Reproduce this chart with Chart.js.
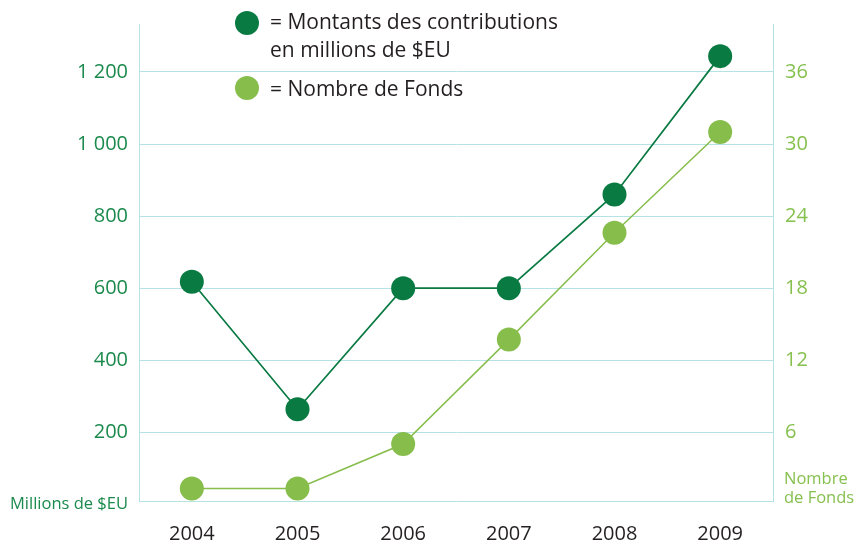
<!DOCTYPE html>
<html>
<head>
<meta charset="utf-8">
<script src="https://cdn.jsdelivr.net/npm/chart.js@4.4.0/dist/chart.umd.min.js"></script>
<style>
  body { margin: 0; background: #fff; }
  #wrap { position: relative; width: 856px; height: 542px; font-family: "Open Sans", sans-serif; }
  .dot { position: absolute; width: 24px; height: 24px; border-radius: 50%; }
  .txt { position: absolute; color: #231f20; font-size: 21px; line-height: 28px; white-space: nowrap; }
  .ttl { position: absolute; font-size: 16.5px; line-height: 19px; white-space: nowrap; }
</style>
</head>
<body>
<div id="wrap">
  <canvas id="canvas" width="856" height="542"></canvas>
  <div class="dot" style="left:235px;top:11px;background:#0a7a43"></div>
  <div class="txt" style="left:270px;top:7px">= Montants des contributions<br>en millions de $EU</div>
  <div class="dot" style="left:235px;top:76px;background:#86bd4b"></div>
  <div class="txt" style="left:270px;top:74px">= Nombre de Fonds</div>
  <div class="ttl" style="left:10px;top:493px;color:#1b8a4c">Millions de $EU</div>
  <div class="ttl" style="left:784px;top:468px;color:#86c04f">Nombre<br>de Fonds</div>
</div>
<script>
var years = ["2004", "2005", "2006", "2007", "2008", "2009"];
var contributions = [618, 264, 600, 600, 860, 1244];
var funds = [1.3, 1.3, 5, 13.7, 22.6, 31];
var leftTicks = [200, 400, 600, 800, 1000, 1200];
var rightTicks = [6, 12, 18, 24, 30, 36];

var darkGreen = '#0a7a43';
var lightGreen = '#86bd4b';
var gridColor = '#b5e2e4';

function fixTicks(list) {
    return function(scale) {
        scale.ticks = list.map(function(v) { return { value: v }; });
    };
}

window.onload = function() {
    var ctx = document.getElementById("canvas").getContext("2d");
    window.myLine = new Chart(ctx, {
        type: 'line',
        data: {
            labels: years,
            datasets: [{
                label: 'Montants des contributions en millions de $EU',
                data: contributions,
                yAxisID: 'yLeft',
                borderColor: darkGreen,
                backgroundColor: darkGreen,
                borderWidth: 1.7,
                pointRadius: 12,
                pointHoverRadius: 12,
                pointBorderWidth: 0
            }, {
                label: 'Nombre de Fonds',
                data: funds,
                yAxisID: 'yRight',
                borderColor: lightGreen,
                backgroundColor: lightGreen,
                borderWidth: 1.5,
                pointRadius: 12,
                pointHoverRadius: 12,
                pointBorderWidth: 0
            }]
        },
        options: {
            responsive: false,
            animation: false,
            layout: { padding: { top: 24, left: 0, right: 0, bottom: 0 } },
            plugins: {
                legend: { display: false },
                tooltip: { enabled: false }
            },
            scales: {
                x: {
                    offset: true,
                    grid: { display: false },
                    border: { display: true, color: gridColor, width: 1 },
                    ticks: {
                        color: '#231f20',
                        font: { family: 'Open Sans', size: 20 },
                        padding: 13
                    },
                    afterFit: function(s) { s.height = 41; }
                },
                yLeft: {
                    position: 'left',
                    min: 9.3,
                    max: 1333.2,
                    afterBuildTicks: fixTicks(leftTicks),
                    grid: { color: gridColor, drawTicks: false, lineWidth: 1 },
                    border: { display: true, color: gridColor, width: 1 },
                    ticks: {
                        color: '#1b8a4c',
                        font: { family: 'Open Sans', size: 20 },
                        padding: 11,
                        callback: function(v) {
                            return String(v).replace(/\B(?=(\d{3})+(?!\d))/g, ' ');
                        }
                    },
                    afterFit: function(s) { s.width = 139; }
                },
                yRight: {
                    position: 'right',
                    min: 0.25,
                    max: 40,
                    afterBuildTicks: fixTicks(rightTicks),
                    grid: { drawOnChartArea: false, drawTicks: false },
                    border: { display: true, color: gridColor, width: 1 },
                    ticks: {
                        color: '#86c04f',
                        font: { family: 'Open Sans', size: 20 },
                        padding: 12
                    },
                    afterFit: function(s) { s.width = 83; }
                }
            }
        }
    });
};
</script>
</body>
</html>
